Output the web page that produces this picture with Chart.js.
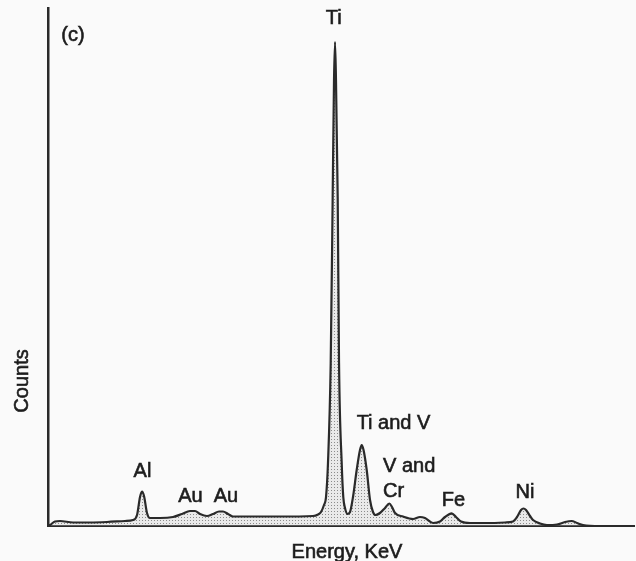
<!DOCTYPE html>
<html>
<head>
<meta charset="utf-8">
<script src="https://cdn.jsdelivr.net/npm/chart.js@4/dist/chart.umd.min.js"></script>
<style>
  html, body { margin: 0; padding: 0; background: #fafafa; }
  canvas { display: block; }
</style>
</head>
<body>
<canvas id="spectrum" width="636" height="561"></canvas>
<script>
// energy (keV) and counts (relative, full scale = 100)
const energy = [
  0, 0.031, 0.110, 0.189, 0.394, 0.661, 0.929, 1.213, 1.339, 1.402,
  1.449, 1.480, 1.512, 1.559, 1.606, 1.764, 1.969, 2.110, 2.236, 2.315,
  2.394, 2.504, 2.598, 2.693, 2.756, 2.835, 2.913, 3.134, 3.654, 4.173,
  4.252, 4.299, 4.346, 4.378, 4.409, 4.452, 4.483, 4.504, 4.520, 4.535,
  4.562, 4.583, 4.625, 4.650, 4.677, 4.717, 4.756, 4.803, 4.861, 4.913,
  4.940, 4.969, 5.019, 5.071, 5.118, 5.157, 5.228, 5.307, 5.375, 5.417,
  5.465, 5.591, 5.748, 5.858, 5.937, 6.063, 6.173, 6.252, 6.357, 6.425,
  6.504, 6.646, 6.913, 7.197, 7.323, 7.386, 7.449, 7.488, 7.528, 7.591,
  7.638, 7.748, 7.858, 8.016, 8.142, 8.247, 8.331, 8.425, 8.693, 9.228
];
const counts = [
  0, 0.19, 0.87, 0.97, 0.68, 0.68, 0.77, 0.97, 1.16, 2.12,
  5.6, 6.66, 5.79, 2.51, 1.54, 1.54, 1.74, 2.32, 2.90, 2.90,
  2.32, 1.93, 2.32, 2.80, 2.80, 2.32, 1.83, 1.83, 1.83, 1.93,
  2.22, 2.70, 4.05, 5.60, 12.16, 31.47, 63.51, 86.10, 93.44, 86.10,
  63.51, 31.47, 12.16, 5.60, 3.47, 2.32, 2.70, 5.60, 10.81, 14.67,
  15.64, 14.67, 10.81, 5.02, 2.70, 2.12, 2.51, 3.47, 4.34, 3.67,
  2.51, 1.83, 1.35, 1.74, 1.54, 0.58, 0.87, 1.74, 2.45, 1.74,
  0.87, 0.58, 0.58, 0.68, 0.87, 1.74, 3.09, 3.38, 3.09, 1.93,
  1.16, 0.48, 0.19, 0.29, 0.77, 0.97, 0.58, 0.19, 0, 0
];

// peak labels, placed in data coordinates (energy, counts)
const labelText  = ["(c)", "Ti", "Ti and V", "V and", "Cr", "Al", "Au", "Au", "Fe", "Ni"];
const labelE     = [0.394, 4.50, 5.441, 5.276, 5.276, 1.488, 2.244, 2.803, 6.386, 7.512];
const labelC     = [94.6, 97.9, 19.88, 11.49, 6.66, 10.62, 5.79, 5.69, 4.92, 6.47];
const labelAlign = ["center", "center", "center", "left", "left", "center", "center", "center", "center", "center"];

const xTitle = "Energy, KeV";
const yTitle = "Counts";

const canvas = document.getElementById("spectrum");
const ctx = canvas.getContext("2d");

// stippled fill like the printed figure
const tile = document.createElement("canvas");
tile.width = 3;
tile.height = 3;
const tctx = tile.getContext("2d");
tctx.fillStyle = "rgba(200,200,200,0.3)";
tctx.fillRect(0, 0, 3, 3);
tctx.fillStyle = "rgba(100,100,100,0.7)";
tctx.fillRect(1, 1, 1, 1);
const stipple = ctx.createPattern(tile, "repeat");

// text drawn a touch heavier, like the printed lettering
function inkText(c, t, x, y) {
  c.strokeText(t, x, y);
  c.fillText(t, x, y);
}

const textPlugin = {
  id: "spectrumText",
  afterDraw(chart) {
    const c = chart.ctx;
    const xs = chart.scales.x;
    const ys = chart.scales.y;
    const area = chart.chartArea;
    c.save();
    c.fillStyle = "#1c1c1c";
    c.strokeStyle = "#1c1c1c";
    c.lineWidth = 0.6;
    c.font = "20px 'Liberation Sans', Arial, sans-serif";
    c.textBaseline = "middle";
    labelText.forEach((t, i) => {
      c.textAlign = labelAlign[i];
      inkText(c, t, xs.getPixelForValue(labelE[i]), ys.getPixelForValue(labelC[i]));
    });
    // axis titles
    c.textAlign = "center";
    inkText(c, xTitle, 347, area.bottom + 26);
    c.translate(22, 381);
    c.rotate(-Math.PI / 2);
    inkText(c, yTitle, 0, 0);
    c.restore();
  }
};

new Chart(canvas, {
  type: "line",
  data: {
    datasets: [
      {
        data: energy.map((e, i) => ({ x: e, y: counts[i] })),
        borderColor: "#2a2a2a",
        borderWidth: 2.2,
        backgroundColor: stipple,
        fill: "origin",
        pointRadius: 0,
        cubicInterpolationMode: "monotone",
      },
    ],
  },
  options: {
    responsive: false,
    animation: false,
    layout: { padding: { left: 48, top: 8, right: 2, bottom: 35 } },
    scales: {
      x: {
        type: "linear",
        min: 0,
        max: 9.228,
        grid: { display: false },
        ticks: { display: false },
        border: { display: true, color: "#2a2a2a", width: 2 },
        afterFit: (s) => { s.height = 0; },
      },
      y: {
        min: 0,
        max: 100,
        grid: { display: false },
        ticks: { display: false },
        border: { display: true, color: "#2a2a2a", width: 2.5 },
        afterFit: (s) => { s.width = 0; },
      },
    },
    plugins: {
      legend: { display: false },
      tooltip: { enabled: false },
    },
  },
  plugins: [textPlugin],
});
</script>
</body>
</html>
